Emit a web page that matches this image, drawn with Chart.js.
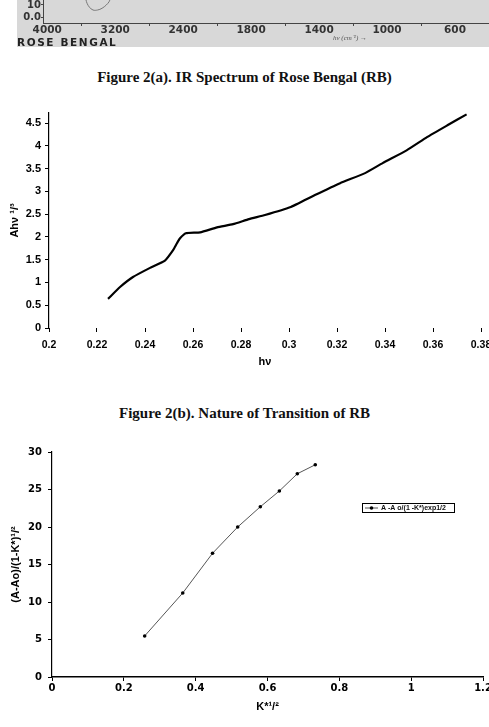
<!DOCTYPE html>
<html><head><meta charset="utf-8">
<script src="https://cdn.jsdelivr.net/npm/chart.js@4.4.1/dist/chart.umd.min.js"></script>
<style>
html,body{margin:0;padding:0;background:#fff;width:489px;height:727px;overflow:hidden;position:relative}
canvas{position:absolute;left:0}
.cap{position:absolute;left:0;width:489px;text-align:center;font:bold 15px "Liberation Serif","Times New Roman",serif;color:#111;line-height:18px}
</style></head><body>
<div style="position:absolute;left:17px;top:0;width:472px;height:47px;background:#d8d8d8"></div>
<canvas id="c1" width="489" height="48" style="top:0"></canvas>
<div style="position:absolute;left:17px;top:36px;font:bold 10.5px 'DejaVu Sans',sans-serif;letter-spacing:1.6px;color:#222">ROSE BENGAL</div>
<div style="position:absolute;left:333px;top:33px;font:italic 7px 'Liberation Serif',serif;color:#555">hν (cm⁻¹) →</div>
<div class="cap" style="top:68px">Figure 2(a). IR Spectrum of Rose Bengal (RB)</div>
<canvas id="c2" width="489" height="269" style="top:100px"></canvas>
<div class="cap" style="top:404px">Figure 2(b). Nature of Transition of RB</div>
<canvas id="c3" width="489" height="274" style="top:440px"></canvas>
<script>
// ---- Data ----
const irTickLabels = ['4000','3200','2400','1800','1400','1000','600'];
const irYTickLabels = ['0.0','10'];
const irCurvePos = [0.560,0.571,0.586,0.622,0.674,0.741,0.807,0.869,0.910,0.921,0.930];
const irCurveT   = [16,14,11.4,8.2,6.0,6.0,7.4,10.0,12.6,14.0,16];

const hv     = [0.2246,0.2296,0.235,0.2421,0.2483,0.2517,0.2533,0.2546,0.257,0.263,0.27,0.2767,0.2833,0.29,0.3004,0.3108,0.3213,0.3317,0.339,0.349,0.3575,0.366,0.374];
const ahv13  = [0.64,0.90,1.12,1.32,1.48,1.71,1.86,1.97,2.08,2.10,2.21,2.28,2.39,2.48,2.65,2.92,3.18,3.40,3.62,3.90,4.19,4.45,4.69];

const kStar  = [0.258,0.364,0.447,0.517,0.580,0.633,0.683,0.733];
const aRatio = [5.47,11.2,16.5,20.0,22.7,24.8,27.1,28.3];
const seriesLabel = 'A -A o/(1 -K*)exp1/2';

Chart.defaults.animation = false;
Chart.defaults.plugins.legend.display = false;
Chart.defaults.plugins.tooltip.enabled = false;

function fixW(w){return s=>{s.width=w;s.paddingTop=0;s.paddingBottom=0;s.paddingLeft=0;s.paddingRight=0;};}
function fixH(h){return s=>{s.height=h;s.paddingTop=0;s.paddingBottom=0;s.paddingLeft=0;s.paddingRight=0;};}
const pts = (xs,ys)=>xs.map((x,i)=>({x:x,y:ys[i]}));

// ---- IR strip (fragment) ----
new Chart(document.getElementById('c1'),{
  type:'line',
  data:{datasets:[{data:pts(irCurvePos,irCurveT),borderColor:'#777',borderWidth:1,pointRadius:0,tension:0.4}]},
  options:{responsive:false,devicePixelRatio:1,layout:{autoPadding:false,padding:0},
    scales:{
      x:{type:'linear',min:-0.062,max:6.5,afterFit:fixH(25),
        afterBuildTicks:s=>{const t=[];for(let i=0;i<=13;i++)t.push({value:i*0.5});s.ticks=t;},
        ticks:{autoSkip:false,maxRotation:0,padding:-2,color:'#333',font:{family:'DejaVu Sans',weight:'bold',size:10.5},
          callback:v=>Number.isInteger(v)?irTickLabels[v]:''},
        grid:{drawOnChartArea:false,tickLength:3,color:c=>Number.isInteger(c.tick&&c.tick.value)?'rgba(0,0,0,0)':'#444'},
        border:{color:'#444',width:1}},
      y:{type:'linear',min:-4.4,max:14,afterFit:fixW(43),
        afterBuildTicks:s=>{s.ticks=[{value:0},{value:10}];},
        ticks:{padding:0,color:'#333',font:{family:'DejaVu Sans',weight:'bold',size:10},
          callback:v=>v===0?irYTickLabels[0]:irYTickLabels[1]},
        grid:{drawOnChartArea:false,tickLength:2,color:'#444'},
        border:{color:'#444',width:1}}
    }}
});

// ---- Figure 2(b) chart ----
new Chart(document.getElementById('c2'),{
  type:'line',
  data:{datasets:[{data:pts(hv,ahv13),borderColor:'#000',borderWidth:2.2,pointRadius:0,tension:0.15}]},
  options:{responsive:false,devicePixelRatio:1,layout:{autoPadding:false,padding:{top:13,right:8,left:0,bottom:0}},
    scales:{
      x:{type:'linear',min:0.2,max:0.38,afterFit:fixH(41),
        afterBuildTicks:s=>{const t=[];for(let i=0;i<=9;i++)t.push({value:0.2+i*0.02});s.ticks=t;},
        ticks:{autoSkip:false,maxRotation:0,padding:7,color:'#000',font:{family:"'Liberation Sans',sans-serif",weight:'bold',size:10.5},
          callback:v=>String(parseFloat(v.toFixed(2)))},
        grid:{drawOnChartArea:false,tickLength:4,color:'#000'},
        border:{display:false},
        title:{display:true,text:'hν',padding:0,color:'#000',font:{family:"'Liberation Sans',sans-serif",weight:'bold',size:11}}},
      y:{type:'linear',min:0,max:4.72,afterFit:fixW(49),
        afterBuildTicks:s=>{const t=[];for(let i=0;i<=9;i++)t.push({value:i*0.5});s.ticks=t;},
        ticks:{padding:4,color:'#000',font:{family:"'Liberation Sans',sans-serif",weight:'bold',size:11},
          callback:v=>String(parseFloat(v.toFixed(1)))},
        grid:{drawOnChartArea:false,tickLength:4,color:'#000'},
        border:{color:'#000',width:1.2},
        title:{display:true,text:'Ahν ¹/³',padding:{top:8,bottom:0},color:'#000',font:{family:"'Liberation Sans',sans-serif",weight:'bold',size:11}}}
    }}
});

// ---- Third chart ----
const legendPlugin={id:'boxLegend',afterDraw(chart){
  const ctx=chart.ctx, ds=chart.data.datasets[0];
  const x0=362,y0=503-440,w=92,h=9;
  ctx.save();
  ctx.strokeStyle='#000';ctx.lineWidth=1;ctx.strokeRect(x0+0.5,y0+0.5,w,h);
  ctx.strokeStyle=ds.borderColor;ctx.beginPath();ctx.moveTo(x0+3,y0+5);ctx.lineTo(x0+16,y0+5);ctx.stroke();
  ctx.fillStyle='#000';ctx.beginPath();ctx.arc(x0+9.5,y0+5,1.8,0,Math.PI*2);ctx.fill();
  ctx.font="bold 7px 'Liberation Sans',sans-serif";ctx.textBaseline='middle';ctx.fillStyle='#111';
  ctx.fillText(ds.label,x0+19,y0+5.2);
  ctx.restore();
}};
new Chart(document.getElementById('c3'),{
  type:'line',
  data:{datasets:[{label:seriesLabel,data:pts(kStar,aRatio),borderColor:'#555',borderWidth:1,pointRadius:1.8,pointBackgroundColor:'#000',pointBorderWidth:0,tension:0}]},
  options:{responsive:false,devicePixelRatio:1,layout:{autoPadding:false,padding:{top:12,right:6,left:0,bottom:0}},
    scales:{
      x:{type:'linear',min:0,max:1.2,afterFit:fixH(37),
        afterBuildTicks:s=>{const t=[];for(let i=0;i<=6;i++)t.push({value:i*0.2});s.ticks=t;},
        ticks:{autoSkip:false,maxRotation:0,padding:1,color:'#000',font:{family:'DejaVu Sans',weight:'bold',size:10},
          callback:v=>String(Math.round(v*10)/10)},
        grid:{drawOnChartArea:false,tickLength:4,color:'#000'},
        border:{color:'#000',width:1.5},
        title:{display:true,text:'K*¹/²',padding:0,color:'#000',font:{family:'Liberation Sans',weight:'bold',size:11}}},
      y:{type:'linear',min:0,max:30,afterFit:fixW(52),
        afterBuildTicks:s=>{const t=[];for(let i=0;i<=6;i++)t.push({value:i*5});s.ticks=t;},
        ticks:{padding:6,color:'#000',font:{family:'DejaVu Sans',weight:'bold',size:10}},
        grid:{drawOnChartArea:false,tickLength:4,color:'#000'},
        border:{color:'#000',width:1.2},
        title:{display:true,text:'(A-Ao)/(1-K*)¹/²',padding:{top:9,bottom:0},color:'#000',font:{family:'Liberation Sans',weight:'bold',size:11}}}
    }},
  plugins:[legendPlugin]
});
</script>
</body></html>
